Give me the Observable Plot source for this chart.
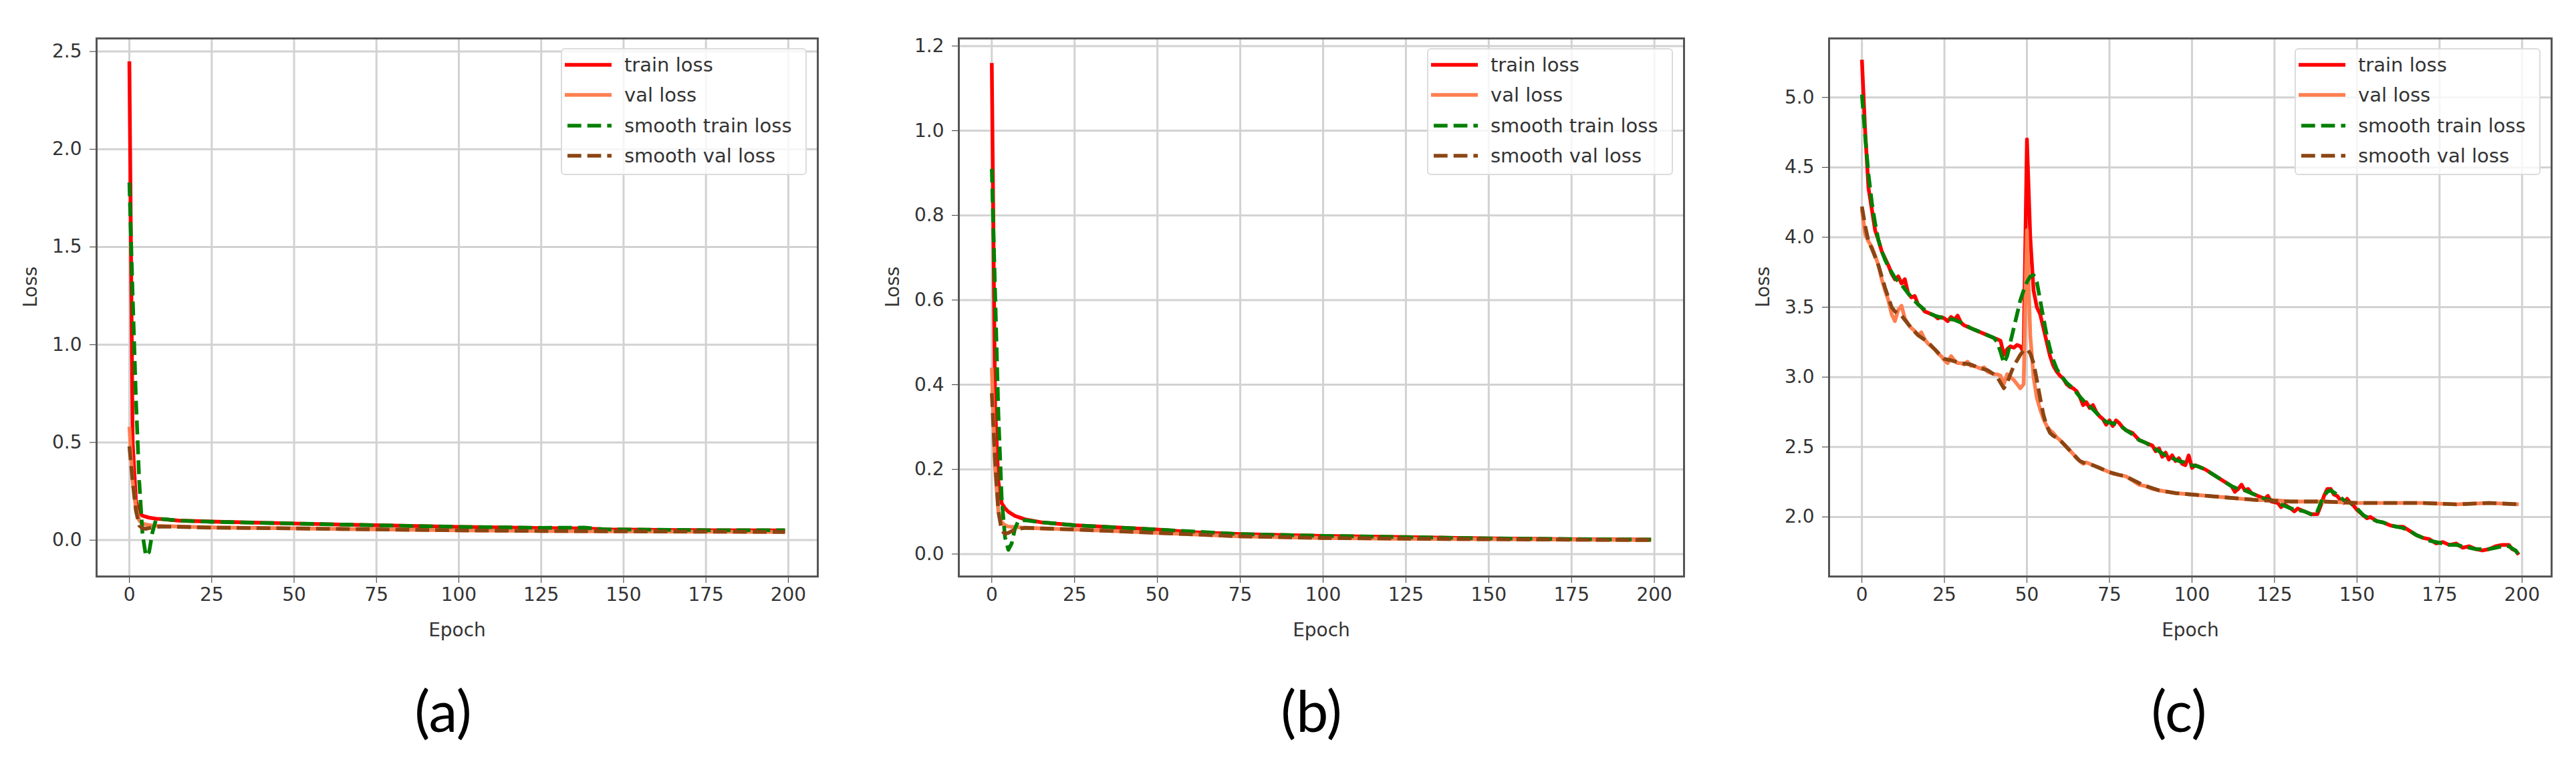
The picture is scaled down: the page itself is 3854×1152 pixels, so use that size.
<!DOCTYPE html>
<html>
<head>
<meta charset="utf-8">
<script src="https://cdn.jsdelivr.net/npm/d3@7"></script>
<script src="https://cdn.jsdelivr.net/npm/@observablehq/plot@0.6"></script>
<style>
  html, body { margin: 0; padding: 0; background: #fff; }
  body { width: 3854px; height: 1152px; position: relative; overflow: hidden; font-family: "DejaVu Sans", sans-serif; }
  .panel { position: absolute; }
  .legend { position: absolute; box-sizing: border-box; border: 2px solid #dcdcdc; border-radius: 6px; background: rgba(255,255,255,0.8); }
  .legend .row { position: absolute; left: 0; height: 40px; display: flex; align-items: center; white-space: nowrap; }
  .legend .row span { font-family: "DejaVu Sans", sans-serif; font-size: 29px; color: #333; margin-left: 18px; }
  .cap { position: absolute; font-family: Lato, "Open Sans", sans-serif; font-size: 86px; line-height: 1; color: #000; transform: translate(-50%, -50%); white-space: nowrap; }
</style>
</head>
<body>
<script>
// ---------------- data ----------------
const xTicks = [0, 25, 50, 75, 100, 125, 150, 175, 200];
const seriesNames = ["train loss", "val loss", "smooth train loss", "smooth val loss"];
const seriesColors = ["red", "coral", "green", "#8B4513"];
const seriesDashed = [false, false, true, true];
const panelCaptions = ["(a)", "(b)", "(c)"];

// panel (a)
const aTicksY = [0, 0.5, 1.0, 1.5, 2.0, 2.5];
const aTrainEpoch = [0, 1, 2, 3, 4, 5, 6, 8, 10, 15, 25, 50, 75, 100, 125, 138, 145, 150, 175, 199];
const aTrainLoss  = [2.45, 0.5, 0.2, 0.14, 0.125, 0.12, 0.115, 0.11, 0.107, 0.1, 0.095, 0.085, 0.076, 0.068, 0.062, 0.06, 0.055, 0.054, 0.051, 0.05];
const aValEpoch = [0, 1, 2, 3, 4, 5, 7, 10, 25, 50, 75, 100, 125, 150, 175, 199];
const aValLoss  = [0.58, 0.3, 0.16, 0.1, 0.085, 0.08, 0.075, 0.072, 0.065, 0.06, 0.055, 0.05, 0.047, 0.045, 0.043, 0.042];
const aSmoothTrainEpoch = [0, 1, 2, 3, 4, 5, 6, 7, 8, 9, 10, 15, 25, 50, 75, 100, 125, 138, 142, 145, 175, 199];
const aSmoothTrainLoss  = [1.83, 1.25, 0.72, 0.3, 0.03, -0.08, -0.06, 0.04, 0.1, 0.11, 0.108, 0.1, 0.094, 0.085, 0.076, 0.068, 0.063, 0.064, 0.058, 0.055, 0.051, 0.051];
const aSmoothValEpoch = [0, 1, 2, 3, 4, 5, 6, 8, 10, 25, 50, 75, 100, 125, 150, 199];
const aSmoothValLoss  = [0.48, 0.3, 0.15, 0.075, 0.06, 0.058, 0.062, 0.068, 0.07, 0.064, 0.06, 0.055, 0.05, 0.047, 0.045, 0.042];

// panel (b)
const bTicksY = [0, 0.2, 0.4, 0.6, 0.8, 1.0, 1.2];
const bTrainEpoch = [0, 1, 2, 3, 4, 5, 7, 10, 15, 25, 50, 60, 75, 100, 125, 150, 175, 199];
const bTrainLoss  = [1.16, 0.35, 0.17, 0.12, 0.108, 0.1, 0.09, 0.082, 0.075, 0.068, 0.058, 0.052, 0.047, 0.043, 0.04, 0.037, 0.035, 0.034];
const bValEpoch = [0, 1, 2, 3, 4, 5, 10, 25, 50, 75, 100, 125, 150, 175, 199];
const bValLoss  = [0.44, 0.2, 0.1, 0.075, 0.068, 0.065, 0.062, 0.058, 0.05, 0.042, 0.038, 0.036, 0.035, 0.034, 0.033];
const bSmoothTrainEpoch = [0, 1, 2, 3, 4, 5, 6, 7, 8, 10, 15, 25, 50, 75, 100, 125, 150, 199];
const bSmoothTrainLoss  = [0.91, 0.62, 0.33, 0.13, 0.04, 0.01, 0.025, 0.06, 0.078, 0.08, 0.075, 0.068, 0.058, 0.047, 0.043, 0.04, 0.037, 0.034];
const bSmoothValEpoch = [0, 1, 2, 3, 4, 5, 7, 10, 25, 50, 75, 100, 150, 199];
const bSmoothValLoss  = [0.38, 0.22, 0.1, 0.055, 0.048, 0.05, 0.058, 0.062, 0.058, 0.05, 0.042, 0.038, 0.035, 0.033];

// panel (c)
const cTicksY = [2.0, 2.5, 3.0, 3.5, 4.0, 4.5, 5.0];
const cTrainEpoch = [0,1,2,3,4,5,6,7,8,9,10,11,12,13,14,15,16,17,18,19,20,21,22,23,24,25,26,27,28,29,30,31,32,33,34,35,36,37,38,39,40,41,42,43,44,45,46,47,48,49,50,51,52,53,54,55,56,57,58,59,60,61,62,63,64,65,66,67,68,69,70,71,72,73,74,75,76,77,78,79,80,82,84,86,88,89,90,91,92,93,94,95,96,97,98,99,100,101,102,104,106,108,110,112,113,114,115,116,117,118,120,122,123,124,126,127,128,130,131,132,134,136,138,139,140,141,142,143,144,145,146,147,148,149,150,152,153,154,156,158,160,162,164,166,168,170,172,174,176,178,180,182,184,186,188,190,192,194,196,197,198,199];
const cTrainLoss  = [5.27,4.75,4.35,4.2,4.05,3.98,3.9,3.85,3.8,3.74,3.7,3.72,3.67,3.7,3.6,3.57,3.58,3.52,3.5,3.47,3.46,3.45,3.44,3.42,3.43,3.42,3.4,3.43,3.41,3.44,3.39,3.37,3.36,3.35,3.34,3.33,3.32,3.31,3.3,3.29,3.28,3.27,3.26,3.16,3.2,3.22,3.21,3.23,3.22,3.18,4.7,4.0,3.62,3.5,3.45,3.35,3.25,3.15,3.08,3.04,3.01,2.99,2.95,2.93,2.92,2.9,2.86,2.8,2.82,2.78,2.8,2.75,2.72,2.7,2.66,2.69,2.65,2.69,2.67,2.64,2.62,2.6,2.55,2.53,2.51,2.47,2.49,2.43,2.46,2.41,2.44,2.4,2.42,2.38,2.37,2.44,2.35,2.37,2.36,2.34,2.31,2.28,2.25,2.22,2.18,2.2,2.23,2.19,2.2,2.17,2.15,2.13,2.15,2.11,2.1,2.07,2.09,2.06,2.04,2.06,2.04,2.02,2.02,2.08,2.15,2.2,2.2,2.16,2.15,2.12,2.1,2.13,2.1,2.08,2.05,2.01,1.99,2.0,1.97,1.96,1.94,1.93,1.93,1.9,1.87,1.85,1.84,1.81,1.82,1.8,1.81,1.78,1.79,1.77,1.76,1.77,1.79,1.8,1.8,1.77,1.76,1.73];
const cValEpoch = [0,1,2,3,4,5,6,7,8,9,10,11,12,13,14,15,16,17,18,19,20,21,22,23,24,25,26,27,28,29,30,31,32,33,34,35,36,37,38,39,40,41,42,43,44,45,46,47,48,49,50,51,52,53,54,55,56,57,58,59,60,62,64,65,66,67,68,70,72,74,75,76,78,80,82,84,86,88,90,95,100,105,110,115,120,125,130,140,150,160,170,180,190,199];
const cValLoss  = [4.2,4.02,3.97,3.93,3.87,3.8,3.7,3.62,3.55,3.45,3.4,3.48,3.51,3.42,3.38,3.35,3.33,3.3,3.32,3.27,3.24,3.22,3.2,3.17,3.15,3.12,3.1,3.15,3.12,3.1,3.1,3.09,3.11,3.08,3.08,3.07,3.06,3.07,3.04,3.03,3.02,3.02,3.01,2.95,3.02,3.0,2.98,2.95,2.92,2.95,4.05,3.3,3.0,2.85,2.77,2.7,2.65,2.62,2.6,2.57,2.55,2.5,2.45,2.42,2.4,2.38,2.39,2.37,2.35,2.33,2.32,2.31,2.3,2.29,2.26,2.23,2.22,2.2,2.19,2.17,2.16,2.15,2.14,2.13,2.12,2.12,2.11,2.11,2.1,2.1,2.1,2.09,2.1,2.09];
const cSmoothTrainEpoch = [0,1,2,3,4,5,6,7,8,9,10,12,14,15,17,20,22,25,28,30,33,35,38,40,41,42,43,44,45,46,47,48,49,50,51,52,53,54,55,56,57,58,59,60,62,64,66,68,70,72,74,76,78,80,82,84,86,88,90,92,94,96,98,100,102,104,106,108,110,112,114,116,118,120,122,124,126,128,130,132,134,136,137,138,139,140,141,142,144,146,148,150,152,154,156,158,160,162,164,166,168,170,172,174,176,178,180,182,184,186,188,190,192,194,196,198,199];
const cSmoothTrainLoss  = [5.02,4.72,4.45,4.25,4.1,3.98,3.9,3.84,3.79,3.75,3.71,3.66,3.6,3.57,3.52,3.46,3.44,3.42,3.41,3.39,3.35,3.33,3.3,3.28,3.25,3.18,3.1,3.15,3.25,3.35,3.45,3.55,3.62,3.68,3.72,3.73,3.68,3.55,3.42,3.3,3.2,3.12,3.06,3.02,2.96,2.92,2.86,2.81,2.77,2.72,2.68,2.67,2.66,2.62,2.59,2.55,2.53,2.5,2.47,2.44,2.42,2.4,2.39,2.37,2.36,2.34,2.31,2.28,2.25,2.22,2.2,2.19,2.17,2.15,2.13,2.12,2.1,2.08,2.06,2.05,2.04,2.02,2.01,2.04,2.1,2.15,2.18,2.19,2.16,2.12,2.1,2.06,2.01,1.99,1.97,1.96,1.94,1.93,1.92,1.9,1.87,1.85,1.83,1.82,1.81,1.8,1.8,1.79,1.78,1.77,1.77,1.77,1.78,1.79,1.79,1.76,1.73];
const cSmoothValEpoch = [0,1,2,3,4,5,6,7,8,9,10,11,12,13,14,15,17,20,22,25,27,30,33,35,38,40,41,42,43,44,45,46,47,48,49,50,51,52,53,54,55,56,57,58,60,62,64,66,68,70,72,75,78,80,85,90,95,100,110,120,130,140,150,160,170,180,190,199];
const cSmoothValLoss  = [4.22,4.08,3.97,3.92,3.86,3.8,3.72,3.64,3.57,3.5,3.47,3.45,3.44,3.41,3.38,3.35,3.3,3.25,3.2,3.13,3.12,3.1,3.09,3.07,3.05,3.02,3.0,2.96,2.92,2.96,3.02,3.08,3.12,3.16,3.19,3.2,3.17,3.1,2.98,2.85,2.73,2.65,2.6,2.58,2.55,2.5,2.45,2.4,2.38,2.37,2.35,2.32,2.3,2.29,2.23,2.19,2.17,2.16,2.14,2.12,2.11,2.11,2.1,2.1,2.1,2.09,2.1,2.09];

// ---------------- layout / style ----------------
const FRAME_TOP = 57, FRAME_BOTTOM = 862;
const M = { left: 150, right: 30, top: 20, bottom: 130 };
const panels = [
  { frameLeft: 144, frameRight: 1223, yDomain: [-0.186, 2.567], yTicks: aTicksY, capX: 663,
    series: [[aTrainEpoch, aTrainLoss], [aValEpoch, aValLoss], [aSmoothTrainEpoch, aSmoothTrainLoss], [aSmoothValEpoch, aSmoothValLoss]] },
  { frameLeft: 1434, frameRight: 2519, yDomain: [-0.053, 1.218], yTicks: bTicksY, capX: 1962,
    series: [[bTrainEpoch, bTrainLoss], [bValEpoch, bValLoss], [bSmoothTrainEpoch, bSmoothTrainLoss], [bSmoothValEpoch, bSmoothValLoss]] },
  { frameLeft: 2736, frameRight: 3817, yDomain: [1.574, 5.422], yTicks: cTicksY, capX: 3260,
    series: [[cTrainEpoch, cTrainLoss], [cValEpoch, cValLoss], [cSmoothTrainEpoch, cSmoothTrainLoss], [cSmoothValEpoch, cSmoothValLoss]] }
];
const LINE_W = 5.6, DASH = "20.7,9";
const gridStyle = { stroke: "#d2d2d2", strokeOpacity: 1, strokeWidth: 3 };

panels.forEach((p, pi) => {
  const W = p.frameRight - p.frameLeft;
  const H = FRAME_BOTTOM - FRAME_TOP;
  const lineMarks = p.series.map(([ep, ls], i) => {
    const rows = ep.map((e, j) => ({ epoch: e, loss: ls[j] }));
    return Plot.line(rows, {
      x: "epoch", y: "loss",
      stroke: seriesColors[i], strokeWidth: LINE_W,
      strokeDasharray: seriesDashed[i] ? DASH : null,
      strokeLinecap: "butt", strokeLinejoin: "round"
    });
  });
  const chart = Plot.plot({
    width: W + M.left + M.right,
    height: H + M.top + M.bottom,
    marginLeft: M.left, marginRight: M.right, marginTop: M.top, marginBottom: M.bottom,
    style: { fontFamily: "DejaVu Sans", fontSize: "28px", color: "#333", background: "transparent", overflow: "visible" },
    x: { domain: [-9.95, 208.95], ticks: xTicks, tickSize: 10, tickPadding: 7, tickFormat: d => String(d), label: null },
    y: { domain: p.yDomain, ticks: p.yTicks, tickSize: 10, tickPadding: 12, tickFormat: d => d.toFixed(1), label: null },
    marks: [
      Plot.ruleX(xTicks, gridStyle),
      Plot.ruleY(p.yTicks, gridStyle),
      ...lineMarks,
      Plot.frame({ stroke: "#555", strokeWidth: 3 }),
      Plot.text(["Epoch"], { frameAnchor: "bottom", dy: 89, fontSize: 28, fill: "#333" }),
      Plot.text(["Loss"], { frameAnchor: "left", dx: -98, rotate: -90, fontSize: 28, fill: "#333" })
    ]
  });
  const div = document.createElement("div");
  div.className = "panel";
  div.style.left = (p.frameLeft - M.left) + "px";
  div.style.top = (FRAME_TOP - M.top) + "px";
  div.style.width = (W + M.left + M.right) + "px";
  div.appendChild(chart);
  document.body.appendChild(div);

  // legend (upper right, inside frame)
  const lg = document.createElement("div");
  lg.className = "legend";
  const lgW = 368, lgH = 190;
  lg.style.left = (p.frameRight - 16 - lgW) + "px";
  lg.style.top = (FRAME_TOP + 15) + "px";
  lg.style.width = lgW + "px";
  lg.style.height = lgH + "px";
  const rowY = [24.7, 69.7, 116, 161];
  seriesNames.forEach((name, i) => {
    const r = document.createElement("div");
    r.className = "row";
    r.style.top = (rowY[i] - 20 - 2) + "px";
    r.style.left = "3px";
    const ns = "http://www.w3.org/2000/svg";
    const s = document.createElementNS(ns, "svg");
    s.setAttribute("width", "72"); s.setAttribute("height", "40");
    const l = document.createElementNS(ns, "line");
    l.setAttribute("x1", "1"); l.setAttribute("x2", "71");
    l.setAttribute("y1", "20"); l.setAttribute("y2", "20");
    l.setAttribute("stroke", seriesColors[i]);
    l.setAttribute("stroke-width", String(LINE_W));
    if (seriesDashed[i]) { l.setAttribute("stroke-dasharray", DASH); l.setAttribute("stroke-dashoffset", "-4"); }
    s.appendChild(l);
    r.appendChild(s);
    const t = document.createElement("span");
    t.textContent = name;
    r.appendChild(t);
    lg.appendChild(r);
  });
  document.body.appendChild(lg);

  const cap = document.createElement("div");
  cap.className = "cap";
  cap.style.left = p.capX + "px";
  cap.style.top = "1062px";
  cap.textContent = panelCaptions[pi];
  document.body.appendChild(cap);
});
</script>
</body>
</html>
